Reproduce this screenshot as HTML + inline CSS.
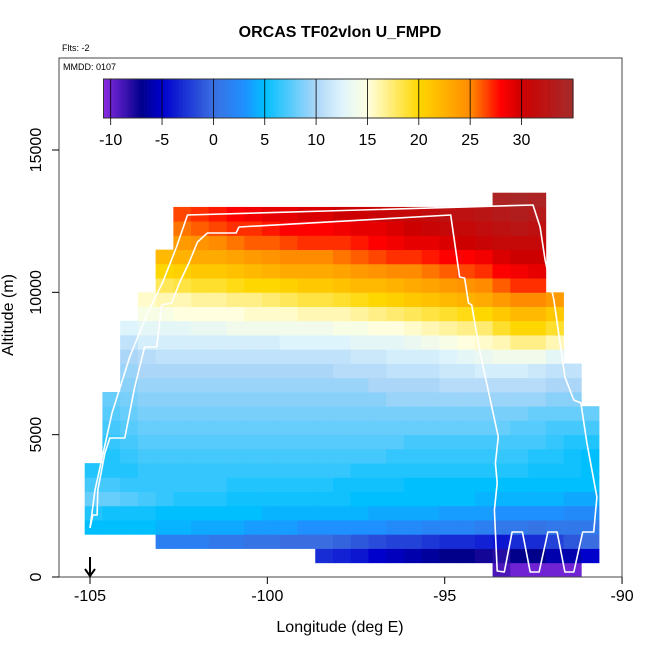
<!DOCTYPE html>
<html><head><meta charset="utf-8"><style>
html,body{margin:0;padding:0;background:#fff}
svg{display:block;font-family:"Liberation Sans",sans-serif}
</style></head><body>
<svg id="chart" width="650" height="650" viewBox="0 0 650 650">
<rect x="0" y="0" width="650" height="650" fill="#fff"/>
<g id="cells"></g>
<g id="track"></g>
<g id="cbar"></g>
<rect x="59" y="58" width="563" height="519" fill="none" stroke="#444" stroke-width="1"/>
<g id="axes"></g>
<text x="340" y="37" text-anchor="middle" font-size="16" font-weight="bold">ORCAS TF02vlon U_FMPD</text>
<text x="62" y="51" font-size="9">Flts: -2</text>
<text x="63" y="70" font-size="9">MMDD: 0107</text>
<text x="340" y="632" text-anchor="middle" font-size="16">Longitude (deg E)</text>
<text transform="translate(13,315) rotate(-90)" text-anchor="middle" font-size="16">Altitude (m)</text>
<g><line x1="90" y1="557" x2="90" y2="575" stroke="#000" stroke-width="2"/><path d="M85,569 L90,576 L95,569" fill="none" stroke="#000" stroke-width="2"/></g>
</svg>
<script>
const N = null;
const lonStart = -105.15, lonStep = 0.5;
const altStep = 500;
const xTicks = [-105, -100, -95, -90];
const yTicks = [0, 5000, 10000, 15000];
const cbTicks = [-10, -5, 0, 5, 10, 15, 20, 25, 30];
const grid = [
[N,N,N,N,N,N,N,N,N,N,N,N,N,N,N,N,N,N,N,N,N,N,N,-9,-10,-10,-10,-10,N],
[N,N,N,N,N,N,N,N,N,N,N,N,N,-3,-3.5,-4,-5,-5.5,-6,-6.5,-7,-7,-7.5,-8,-7,-7,-6,-6,-5],
[N,N,N,N,1.5,1.5,1.5,1,1,0.5,0.5,0,0,0,-0.5,-1,-1.5,-2,-2,-2.5,-3,-3,-3.5,-4,-3,-3,-2,-1,0],
[5,5,5,5,4.5,4.5,4,4,4,3.5,3.5,3.5,3,3,3,3,3,2.5,2.5,2,2,2,1.5,1,1,0.5,1,1,1],
[6,5.5,5.5,5.5,5,5,5,5,5,5,4.5,4.5,4.5,4.5,4.5,4.5,4,4,4,4,3.5,3.5,3.5,3,3,3,3,2.5,2.5],
[8,8,7.5,7,6.5,6,6,6,5.5,5.5,5.5,5.5,5.5,5.5,5.5,5,5,5,5,5,5,5,4.5,4.5,4.5,4.5,4.5,4,4],
[7,7,6.5,6.5,6.5,6.5,6.5,6.5,6,6,6,6,6,6,5.5,5.5,5.5,5.5,5,5,5,5,5,5,5,5,5,5,5],
[6,6,6,6.5,6.5,6.5,6.5,6.5,6.5,6.5,6.5,6.5,6.5,6.5,6.5,6,6,6,6,6,6,6,6,6,6,5.5,5.5,5.5,5],
[N,6,6.5,7,7,7,7,7,7,7,7,7,7,7,7,7,7,6.5,6.5,6.5,6.5,6.5,6.5,6.5,6.5,6,6,5.5,5],
[N,6.5,7,7.5,7.5,7.5,7.5,7.5,7.5,7.5,7.5,7.5,7.5,7.5,7.5,7.5,7.5,7.5,7,7,7,7,7,7,7,7,6.5,6,6],
[N,7,7.5,8,8,8,8,8,8,8,8,8,8,8,8,8,8,8,8,8,8,8,8,8,7.5,7.5,7,7,7],
[N,7.5,8,8.5,8.5,8.5,8.5,8.5,8.5,8.5,8.5,8.5,8.5,8.5,8.5,8.5,8.5,8.5,8.5,8.5,8.5,8.5,8.5,8.5,8.5,8,8,8,8],
[N,8,8.5,9,9,9,9,9,9,9,9,9,9,9,9,9,9,9.5,9.5,9.5,9.5,9.5,9.5,9.5,9.5,9.5,9,9,N],
[N,N,9,9.5,9.5,9.5,9.5,9.5,9.5,9.5,9.5,9.5,9.5,9.5,9.5,9.5,10,10,10,10,10.5,10.5,10.5,10.5,10.5,10.5,10,10,N],
[N,N,9.5,10,10,10,10,10,10,10,10,10,10,10,10.5,10.5,10.5,11,11,11,11.5,11.5,12,12,12,11.5,11,11,N],
[N,N,10,10.5,11,11,11,11,11,11,11,11,11,11,11,11.5,11.5,12,12,12,12.5,13,13.5,14,14,14,13,N,N],
[N,N,11,12,12,12,12,12,12,12,12,12.5,12.5,12.5,12.5,13,13,13,13.5,14,14.5,15,15.5,16,17,17,16,N,N],
[N,N,12.5,13,13,13,13.5,13.5,14,14,14,14,14,14,14.5,14.5,15,15,15.5,16,16.5,17,17.5,19,20,20,19,N,N],
[N,N,N,14.5,14.5,15,15,15,15,15.5,15.5,15.5,16,16,16,16.5,17,17.5,18,18.5,19,19.5,20,21,22,22,21,N,N],
[N,N,N,15.5,16,16,16.5,16.5,17,17,17.5,18,18.5,18.5,19,19.5,20,20.5,21,21.5,22,22.5,23,24,25,25,24,N,N],
[N,N,N,N,18,18.5,19,19,19.5,20,20,20.5,21,21,21.5,22,22,22.5,23,23.5,24,24.5,25,26,27,27,N,N,N],
[N,N,N,N,20,20.5,21,21,21.5,22,22.5,23,23,23,23.5,24,24.5,25,25,25.5,26,26.5,27,28,28.5,29,N,N,N],
[N,N,N,N,22,22.5,23,23,23.5,24,24.5,25,25,25,25.5,26,26.5,27,27,27.5,28,28,28.5,29.5,30,30,N,N,N],
[N,N,N,N,N,24,24.5,25,25.5,26,26,26.5,27,27,27,27.5,28,28.5,29,29,29.5,30,30.5,31,31,31,N,N,N],
[N,N,N,N,N,25.5,26,26.5,27,27,27.5,28,28,28,28.5,29,29,29.5,30,30.5,31,31,31.5,32,32.5,32,N,N,N],
[N,N,N,N,N,26.5,27,27.5,28,28.5,29,29,29.5,29.5,30,30,30.5,31,31,31.5,32,32,32.5,33,33.5,33,N,N,N],
[N,N,N,N,N,N,N,N,N,N,N,N,N,N,N,N,N,N,N,N,N,N,N,34,34.5,34,N,N,N]
];
const trackLon = [-105.00,-104.86,-104.38,-103.88,-103.38,-102.96,-102.56,-102.25,-92.51,-92.31,-92.17,-91.92,-91.61,-91.36,-91.16,-90.99,-90.71,-90.80,-91.11,-91.36,-91.61,-91.83,-92.09,-92.34,-92.59,-92.81,-93.10,-93.32,-93.52,-93.57,-93.60,-93.52,-93.57,-93.49,-94.02,-94.24,-94.33,-94.44,-94.58,-94.83,-100.80,-100.88,-101.69,-101.97,-102.20,-102.48,-102.70,-102.98,-103.12,-103.46,-103.74,-104.02,-104.44,-104.58,-104.78,-104.80,-104.92,-105.00];
const trackAlt = [1721,3056,5761,7729,9274,10328,11593,12717,13068,12296,11136,9731,7026,6218,6113,4707,2810,1581,1581,176,176,1581,1581,176,176,1581,1581,176,211,1581,2354,3302,4005,4918,7975,9555,9626,10504,10539,12717,12296,12085,12085,11768,11066,10328,9626,9555,8080,8080,6675,4883,4883,4356,3056,2178,2178,1721];

const X = lon => 90 + (lon + 105) * 35.47;
const Y = alt => 577 - alt * 0.028466;
const NS = "http://www.w3.org/2000/svg";
const stops = [[-10.7,[138,43,226]],[-7,[0,0,139]],[-5,[0,0,205]],[0,[58,110,224]],[3,[30,144,255]],[5,[0,191,255]],[10,[172,214,248]],[12.5,[222,244,252]],[15,[255,255,224]],[20,[255,215,0]],[25,[255,140,0]],[28,[255,0,0]],[30,[205,0,0]],[35,[165,42,42]]];
function cmap(v){
  if(v<=stops[0][0]) return `rgb(${stops[0][1]})`;
  for(let i=1;i<stops.length;i++){
    if(v<=stops[i][0]){
      const a=stops[i-1],b=stops[i],t=(v-a[0])/(b[0]-a[0]);
      const c=a[1].map((q,k)=>Math.round(q+(b[1][k]-q)*t));
      return `rgb(${c})`;
    }
  }
  return `rgb(${stops[stops.length-1][1]})`;
}
function mk(tag, attrs, parent){
  const e=document.createElementNS(NS,tag);
  for(const k in attrs) e.setAttribute(k,attrs[k]);
  parent.appendChild(e); return e;
}
const cells=document.getElementById('cells');
grid.forEach((row,j)=>{
  row.forEach((v,i)=>{
    if(v===null) return;
    const l0=lonStart+i*lonStep, a0=j*altStep;
    const x0=X(l0), x1=X(l0+lonStep), y0=Y(a0+altStep), y1=Y(a0);
    const r=mk('rect',{x:x0.toFixed(2),y:y0.toFixed(2),width:(x1-x0+0.4).toFixed(2),height:(y1-y0+0.4).toFixed(2),fill:cmap(v)},cells);
    
    
  });
});
const tr=document.getElementById('track');
const pts=trackLon.map((l,i)=>X(l).toFixed(1)+','+Y(trackAlt[i]).toFixed(1)).join(' ');
const pl=mk('polyline',{points:pts,fill:'none',stroke:'#fff','stroke-width':1.6,'stroke-linejoin':'round'},tr);


const cb=document.getElementById('cbar');
const cbX = v => 110.7 + (v + 10) * 10.27;
const cbMin=-10.7, cbMax=35;
for(let v=cbMin; v<cbMax; v+=0.25){
  const r=mk('rect',{x:cbX(v).toFixed(2),y:79,width:(0.25*10.27+0.3).toFixed(2),height:39,fill:cmap(v+0.125)},cb);
  
  
}
const cbf=mk('rect',{x:cbX(cbMin),y:79,width:cbX(cbMax)-cbX(cbMin),height:39,fill:'none',stroke:'#333','stroke-width':1},cb);


cbTicks.forEach(v=>{
  const ln=mk('line',{x1:cbX(v),x2:cbX(v),y1:79,y2:125,stroke:'#000','stroke-width':0.8},cb);
  
  
  const t=mk('text',{x:cbX(v),y:145,'text-anchor':'middle','font-size':16},cb);
  t.textContent=String(v);
  
  
});
const ax=document.getElementById('axes');
xTicks.forEach(v=>{
  const ln=mk('line',{x1:X(v),x2:X(v),y1:577,y2:584,stroke:'#000'},ax);
  
  
  const t=mk('text',{x:X(v),y:601,'text-anchor':'middle','font-size':16},ax);
  t.textContent=String(v);
  
  
});
yTicks.forEach(v=>{
  const ln=mk('line',{x1:52,x2:59,y1:Y(v),y2:Y(v),stroke:'#000'},ax);
  
  
  const t=mk('text',{transform:`translate(41,${Y(v)}) rotate(-90)`,'text-anchor':'middle','font-size':16},ax);
  t.textContent=String(v);
  
  
});
</script>
</body></html>
